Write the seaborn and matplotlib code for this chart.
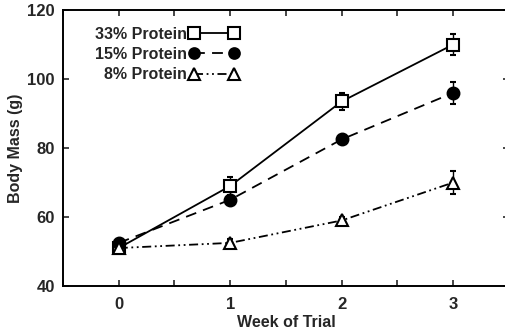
import matplotlib
matplotlib.use("Agg")
import matplotlib.pyplot as plt
import seaborn as sns
import pandas as pd
import numpy as np

weeks = [0, 1, 2, 3]
p33 = [51.0, 69.0, 93.5, 110.0]
p33_err = [1.0, 2.5, 2.5, 3.0]
p15 = [52.5, 65.0, 82.5, 96.0]
p15_err = [1.0, 1.0, 1.0, 3.2]
p8 = [51.0, 52.5, 59.0, 70.0]
p8_err = [1.0, 1.0, 1.0, 3.3]
labels = ["33% Protein", "15% Protein", "8% Protein"]

sns.set_style("ticks")
plt.rcParams['font.family'] = ['Liberation Sans', 'DejaVu Sans']
plt.rcParams['font.weight'] = 'bold'

fig = plt.figure(figsize=(5.06, 3.33), dpi=100)
ax = fig.add_axes([63/506, 1-286/333, 446/506, 276/333])

series = [
    (p33, p33_err, labels[0], 's', 'white', (0, ()), 9),
    (p15, p15_err, labels[1], 'o', 'black', (0, (6, 4)), 8.5),
    (p8, p8_err, labels[2], '^', 'white', (0, (5, 2, 1, 2, 1, 2)), 9),
]
for vals, err, lab, mk, mfc, ls, ms in series:
    df = pd.DataFrame({"week": weeks, "mass": vals})
    sns.lineplot(data=df, x="week", y="mass", ax=ax, color="black",
                 marker=mk, markersize=ms, markerfacecolor=mfc,
                 markeredgecolor="black", markeredgewidth=1.5,
                 linewidth=1.3, linestyle=ls, label=lab, zorder=3)
    ax.errorbar(weeks, vals, yerr=err, fmt='none', ecolor='black',
                elinewidth=1.0, capsize=2.5, capthick=1.5, zorder=2)

ax.set_xlim(-0.5, 3.5)
ax.set_ylim(40, 120)
ax.set_xticks([0, 1, 2, 3])
ax.set_xticks([-0.5, 0.5, 1.5, 2.5], minor=True)
ax.set_yticks([40, 60, 80, 100, 120])
ax.tick_params(which='both', direction='in', top=True, right=True,
               length=4, width=1.2, labelsize=12, pad=6)
ax.tick_params(axis='x', pad=8)
for s in ax.spines.values():
    s.set_linewidth(1.4)
    s.set_color('black')
ax.set_xlabel("Week of Trial", fontsize=11.5, labelpad=2, fontweight='bold')
ax.set_ylabel("Body Mass (g)", fontsize=11.5, labelpad=3, fontweight='bold')

leg = ax.legend(loc='upper left', bbox_to_anchor=(0.058, 0.962), frameon=False,
                markerfirst=False, numpoints=2, handlelength=3.1,
                handletextpad=0.15, labelspacing=0.32,
                borderaxespad=0, markerscale=0.9,
                prop={'weight': 'bold', 'size': 11.5})

fig.savefig("out.png", dpi=100)
